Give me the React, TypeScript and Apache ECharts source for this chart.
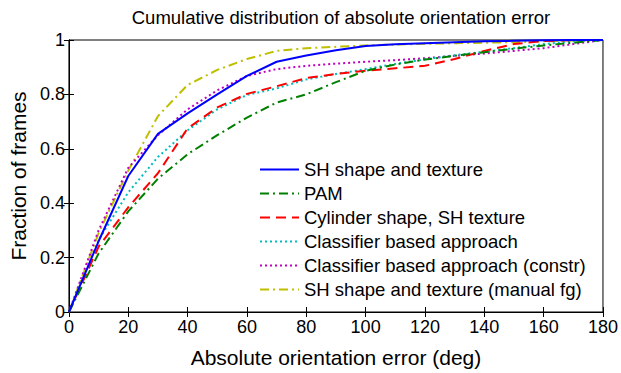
import React, { useEffect, useRef } from "react";
import * as echarts from "echarts";

const degrees = [0, 10, 20, 30, 40, 50, 60, 70, 80, 90, 100, 110, 120, 130, 140, 150, 160, 170, 180];

const shTexture = [0, 0.26, 0.5, 0.655, 0.73, 0.8, 0.868, 0.92, 0.943, 0.962, 0.978, 0.984, 0.988, 0.992, 0.995, 0.997, 0.999, 1, 1];
const pam = [0, 0.215, 0.37, 0.49, 0.58, 0.65, 0.715, 0.77, 0.8, 0.845, 0.887, 0.91, 0.928, 0.942, 0.955, 0.968, 0.98, 0.99, 1];
const cylinder = [0, 0.24, 0.385, 0.51, 0.675, 0.752, 0.802, 0.83, 0.86, 0.875, 0.887, 0.896, 0.905, 0.93, 0.96, 0.985, 0.996, 0.999, 1];
const classifier = [0, 0.265, 0.44, 0.57, 0.668, 0.745, 0.798, 0.822, 0.855, 0.875, 0.893, 0.912, 0.929, 0.944, 0.957, 0.97, 0.985, 0.995, 1];
const classifierConstr = [0, 0.3, 0.53, 0.65, 0.745, 0.815, 0.868, 0.893, 0.905, 0.913, 0.92, 0.926, 0.933, 0.942, 0.95, 0.96, 0.97, 0.985, 1];
const shManual = [0, 0.29, 0.52, 0.72, 0.835, 0.89, 0.93, 0.96, 0.97, 0.975, 0.98, 0.983, 0.986, 0.988, 0.99, 0.992, 0.995, 0.998, 1];

const seriesNames = [
  "SH shape and texture",
  "PAM",
  "Cylinder shape, SH texture",
  "Classifier based approach",
  "Classifier based approach (constr)",
  "SH shape and texture (manual fg)",
];

const xTicks = [0, 20, 40, 60, 80, 100, 120, 140, 160, 180];
const yTicks = [0, 0.2, 0.4, 0.6, 0.8, 1];

const FONT = "'Liberation Sans', Arial, Helvetica, sans-serif";

export default function App() {
  const ref = useRef<HTMLDivElement>(null);
  useEffect(() => {
    if (!ref.current) return;
    const chart = echarts.init(ref.current, undefined, { renderer: "svg" });
    const toPairs = (ys: number[]) => degrees.map((d, i) => [d, ys[i]]);
    const styles = [
      { color: "#0000ff", type: "solid" as any },
      { color: "#008000", type: [9, 4, 2, 4] },
      { color: "#ff0000", type: [10, 6] },
      { color: "#00bfbf", type: [2, 3] },
      { color: "#bf00bf", type: [2, 3] },
      { color: "#bfbf00", type: [9, 4, 2, 4] },
    ];
    const datas = [shTexture, pam, cylinder, classifier, classifierConstr, shManual];
    const series = datas.map((d, i) => ({
      name: seriesNames[i],
      type: "line",
      data: toPairs(d),
      symbol: "none",
      xAxisIndex: 0,
      yAxisIndex: 0,
      lineStyle: { color: styles[i].color, width: 2, type: styles[i].type },
      itemStyle: { color: styles[i].color },
      z: 10 - i,
    }));
    const axisCommon = {
      axisLine: { show: true, lineStyle: { color: "#000", width: 1 } },
      splitLine: { show: false },
    };
    chart.setOption({
      animation: false,
      backgroundColor: "#fff",
      title: {
        text: "Cumulative distribution of absolute orientation error",
        left: 336,
        textAlign: "center",
        top: 3,
        textStyle: { fontFamily: FONT, fontSize: 18.5, fontWeight: "normal", color: "#000" },
      },
      grid: {
        left: 67,
        right: 16,
        top: 40,
        bottom: 52,
        show: true,
        borderColor: "#000",
        borderWidth: 1,
      },
      legend: {
        orient: "vertical",
        left: 259,
        top: 160,
        padding: 0,
        itemWidth: 39,
        itemHeight: 10,
        itemGap: 5,
        itemStyle: { opacity: 0 },
        data: seriesNames,
        textStyle: { fontFamily: FONT, fontSize: 18.5, color: "#000" },
      },
      xAxis: [
        {
          type: "value",
          min: 0,
          max: 180,
          interval: 20,
          name: "Absolute orientation error (deg)",
          nameLocation: "middle",
          nameGap: 35,
          nameTextStyle: { fontFamily: FONT, fontSize: 21, color: "#000" },
          axisTick: { show: true, inside: true, length: 5, lineStyle: { color: "#000" } },
          axisLabel: { fontFamily: FONT, fontSize: 18, color: "#000", margin: 6, formatter: (v: number) => (xTicks.includes(v) ? String(v) : "") },
          ...axisCommon,
        },
        {
          type: "value",
          min: 0,
          max: 180,
          interval: 20,
          position: "top",
          axisTick: { show: true, inside: true, length: 5, lineStyle: { color: "#000" } },
          axisLabel: { show: false },
          ...axisCommon,
        },
      ],
      yAxis: [
        {
          type: "value",
          min: 0,
          max: 1,
          interval: 0.2,
          name: "Fraction of frames",
          nameLocation: "middle",
          nameGap: 37,
          nameTextStyle: { fontFamily: FONT, fontSize: 21, color: "#000" },
          axisTick: { show: true, inside: true, length: 5, lineStyle: { color: "#000" } },
          axisLabel: {
            fontFamily: FONT,
            fontSize: 18,
            color: "#000",
            margin: 4,
            formatter: (v: number) => {
              const t = yTicks.find((y) => Math.abs(y - v) < 1e-6);
              return t === undefined ? "" : String(Math.round(t * 10) / 10);
            },
          },
          ...axisCommon,
        },
        {
          type: "value",
          min: 0,
          max: 1,
          interval: 0.2,
          position: "right",
          axisTick: { show: true, inside: true, length: 5, lineStyle: { color: "#000" } },
          axisLabel: { show: false },
          ...axisCommon,
        },
      ],
      series,
    });
    return () => chart.dispose();
  }, []);
  return <div ref={ref} style={{ width: 621, height: 373, position: "absolute", left: 0, top: 0 }} />;
}
